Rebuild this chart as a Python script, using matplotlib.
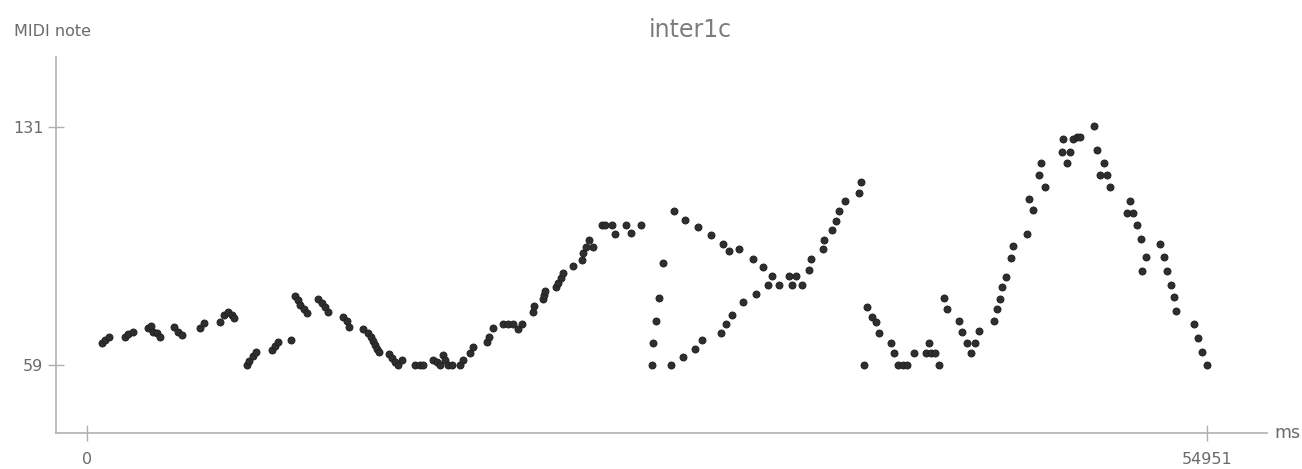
import numpy as np
import matplotlib
matplotlib.use('Agg')
import matplotlib.pyplot as plt

# onset time (ms) and MIDI note of each detected note
times = [
    721, 883, 1094, 1864, 2026, 2242, 3007, 3125, 3253, 3449, 3581,
    4283, 4479, 4646, 5544, 5740, 6525, 6721, 6932, 7099, 7212,
    7865, 7963, 8129, 8291, 9062, 9223, 9385, 10008,
    10204, 10366, 10450, 10646, 10808, 11348, 11514, 11676, 11838,
    12574, 12741, 12854, 13526, 13801, 13918, 14017, 14129, 14213, 14340,
    14831, 14978, 15110, 15273, 15439,
    16092, 16337, 16499, 16989, 17156, 17318, 17480, 17563, 17725, 17892,
    18299, 18461, 18790, 18922, 19609, 19737, 19904,
    20424, 20669, 20914, 21160, 21326, 21866, 21945,
    22357, 22435, 22484, 23009, 23122, 23240, 23338, 23828,
    24270, 24349, 24481, 24643, 24810,
    25251, 25413, 25742, 25904, 26443, 26674, 27179,
    27704, 27783, 27915, 28077, 28244, 28676, 28798,
    29255, 29338, 29853, 30000, 30157, 30599, 31119, 31187,
    31349, 31497, 31644, 32002, 32169, 32689, 32821,
    33179, 33425, 33591, 33950, 34455, 34602, 34784, 35064, 35436, 35505,
    36093, 36172, 36535, 36770, 36918, 37202, 37874, 37958,
    38105, 38267, 38497, 38708, 38856, 39430, 39591, 39812, 40033, 40254,
    40573, 41161, 41294, 41392, 41603, 41814, 42030, 42192,
    42780, 42952, 43158, 43384, 43565, 43752,
    44497, 44630, 44792, 44875, 45086, 45317, 45444,
    46131, 46215, 46426, 46720, 46803, 47014,
    47819, 47897, 48064, 48226, 48388, 48555, 48717,
    49403, 49536, 49698, 49909, 50066, 50213,
    51037, 51170, 51332, 51498, 51695, 51773, 51940,
    52656, 52823, 52970, 53166, 53343, 53412,
    54309, 54491, 54687, 54951,
]
notes = [
    65.7, 66.7, 67.5, 67.7, 68.4, 69.0, 70.2, 70.9, 69.2, 68.7, 67.7,
    70.7, 69.2, 68.2, 70.2, 71.9, 72.2, 74.2, 75.2, 74.2, 73.2,
    59.0, 60.4, 61.9, 63.0, 63.7, 65.0, 66.0, 66.7,
    79.9, 78.7, 77.2, 75.9, 74.9, 78.9, 77.7, 76.5, 75.0,
    73.7, 72.5, 70.7, 69.9, 68.7, 67.5, 66.4, 65.2, 64.0, 63.0,
    62.5, 61.4, 60.1, 59.2, 60.7,
    59.2, 59.2, 59.2, 60.7, 60.1, 59.0, 62.2, 60.7, 59.0, 59.0,
    59.0, 60.7, 62.7, 64.7, 66.2, 67.7, 70.2,
    71.5, 71.5, 71.5, 69.9, 71.5, 75.2, 76.9,
    78.9, 80.2, 81.5, 82.6, 83.9, 85.5, 87.0, 89.0,
    90.8, 92.8, 94.8, 96.8, 94.6,
    101.3, 101.3, 101.3, 98.6, 101.3, 98.8, 101.3,
    59.0, 65.7, 72.4, 79.2, 90.0, 59.0, 105.4,
    61.7, 102.8, 64.1, 100.8, 66.7, 98.3, 68.9, 95.6,
    71.4, 93.6, 74.1, 94.2, 78.0, 91.1, 80.6,
    88.6, 83.3, 86.0, 83.3, 86.0, 83.3, 86.0, 83.3, 87.8, 91.1,
    94.1, 96.7, 99.8, 102.4, 105.5, 108.6, 111.1, 114.3,
    59.0, 76.6, 73.6, 72.0, 68.9, 65.7, 62.7, 59.0, 59.0, 59.0,
    62.7, 62.7, 65.7, 62.7, 62.7, 59.0, 79.2, 75.9,
    72.4, 69.2, 65.7, 62.7, 65.7, 69.3,
    72.4, 75.9, 79.0, 82.6, 85.8, 91.5, 95.1,
    98.7, 109.1, 105.9, 116.3, 119.9, 112.7,
    123.4, 127.2, 119.9, 123.4, 127.2, 127.8, 127.8,
    131.3, 123.9, 116.3, 119.9, 116.3, 112.7,
    104.9, 108.6, 104.9, 101.2, 97.2, 87.4, 91.6,
    95.6, 91.6, 87.4, 83.3, 79.5, 75.5,
    71.4, 67.3, 63.2, 59.0,
]
x_ticks = [0, 54951]
y_ticks = [59, 131]

axis_grey = '#b0b0b0'
text_grey = '#6a6a6a'

fig = plt.figure(figsize=(13.02, 4.69), dpi=100)
ax = fig.add_axes([0.043, 0.0768, 0.930, 0.8017])

ax.scatter(times, notes, s=26, color='#2e2e2e', edgecolors='#1e1e1e',
           linewidths=0.6, zorder=3)

ax.set_xlim(-1521, 57891)
ax.set_ylim(38.66, 151.95)

for side in ['top', 'right']:
    ax.spines[side].set_visible(False)
for side in ['left', 'bottom']:
    ax.spines[side].set_color(axis_grey)
    ax.spines[side].set_linewidth(1.2)

ax.set_xticks(x_ticks)
ax.set_yticks(y_ticks)
ax.set_xticklabels([str(v) for v in x_ticks])
ax.set_yticklabels([str(v) for v in y_ticks])
ax.tick_params(axis='both', direction='inout', length=12, width=1,
               color=axis_grey, labelcolor=text_grey, labelsize=11.5)
ax.tick_params(axis='x', pad=8)
ax.tick_params(axis='y', pad=3)

fig.text(0.0108, 0.932, 'MIDI note', color=text_grey, fontsize=11.5,
         ha='left', va='center')
fig.text(0.530, 0.936, 'inter1c', color='#7d7d7d', fontsize=17,
         ha='center', va='center')
fig.text(0.979, 0.0768, 'ms', color=text_grey, fontsize=12.5,
         ha='left', va='center')

fig.savefig('out.png', dpi=100)
